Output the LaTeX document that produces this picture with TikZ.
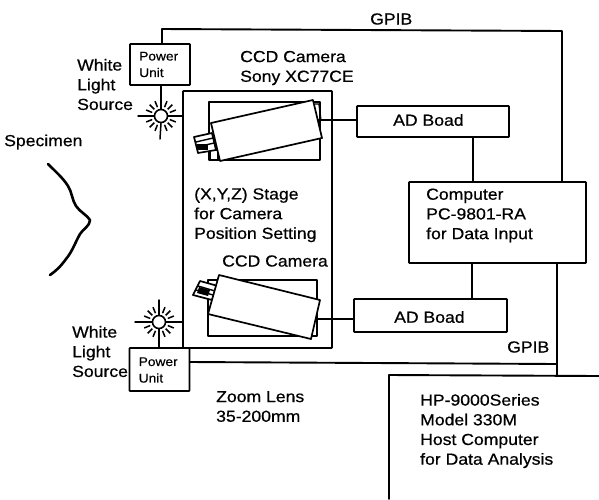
\documentclass[tikz,border=0pt]{standalone}
\usepackage{fontspec}
\setmainfont[FakeStretch=1.1,FakeBold=0.6]{Liberation Sans}
\newcommand{\lampat}[3]{%
  \node[lampc] (#1) at (#2,#3) {};
  \foreach \a in {22,45,68,112,135,158,202,225,248,292,315,338}
    \draw[raystyle] ($(#1)+(\a:9.5)$) -- ($(#1)+(\a:16)$);
}
\usetikzlibrary{calc}
\tikzset{
  x=1pt,y=-1pt,
  wire/.style={line width=1.9pt,black,line cap=round,line join=round},
  thin wire/.style={line width=1.5pt,black,line cap=round,line join=round},
  raystyle/.style={line width=1.5pt,black},
  lampc/.style={circle,draw,line width=1.6pt,minimum size=13pt,inner sep=0pt,fill=white},
  boxn/.style={draw,line width=1.8pt,inner sep=0pt,rounded corners=0.6pt},
  lbl/.style={anchor=west,align=left,inner sep=0pt,font=\fontsize{16}{19.7}\selectfont},
  small/.style={anchor=west,align=left,inner sep=0pt,font=\fontsize{12.5}{16.5}\selectfont},
  cam/.style={draw,line width=1.7pt,fill=white,line join=round},
}
\begin{document}
\begin{tikzpicture}
\useasboundingbox (0,0) rectangle (599,499);
% boxes
\node[boxn,minimum width=60pt,minimum height=41pt] (pu1) at (160,64.5) {};
\node[boxn,minimum width=60pt,minimum height=43pt] (pu2) at (159.5,369.5) {};
\node[boxn,minimum width=149pt,minimum height=257pt] (stage) at (257.5,219.5) {};
\node[boxn,minimum width=152pt,minimum height=31pt] (ad1) at (433,121.5) {};
\node[boxn,minimum width=153pt,minimum height=33pt] (ad2) at (430.5,315.5) {};
\node[boxn,minimum width=177pt,minimum height=81pt] (comp) at (497.5,222.5) {};
% host computer (runs off the page)
\coordinate (hostTR) at (599,376);
\coordinate (hostTL) at (389,375);
\coordinate (hostBL) at (389,499);
\draw[wire] (hostTR) -- (hostTL) -- (hostBL);
% GPIB wiring
\coordinate (gpA) at (162,29);
\coordinate (gpB) at (562,31);
\coordinate (gpC) at (557,364);
\draw[wire] (pu1.north -| gpA) -- (gpA) -- (gpB) -- (comp.north -| gpB);
\draw[wire] (comp.south -| gpC) -- (hostTL -| gpC);
\draw[wire] (pu2.east |- 0,362) -- (gpC);
% lamps
\lampat{lamp1}{161}{116}
\lampat{lamp2}{159}{322}
\coordinate (l1w) at (138,116);
\coordinate (l1s) at (160,139);
\coordinate (l2w) at (135,322);
\coordinate (l2n) at (159,300);
\draw[wire] (pu1.south -| lamp1) -- (lamp1.north);
\draw[thin wire] (lamp1.south) -- (l1s);
\draw[thin wire] (l1w) -- (lamp1.west);
\draw[wire] (lamp1.east) -- (stage.west |- lamp1);
\draw[wire] (pu2.north -| lamp2) -- (lamp2.south);
\draw[thin wire] (lamp2.north) -- (l2n);
\draw[thin wire] (l2w) -- (lamp2.west);
\draw[wire] (lamp2.east) -- (stage.west |- lamp2);
% camera 1
\draw[cam] (209,102) -- (320,102) -- (320,160) -- (209,160) -- cycle;
\draw[cam,line width=1.2pt] (210,150) -- (218,150) -- (218,160) -- (210,160) -- cycle;
\draw[cam] (194,137) -- (212,133) -- (216,150) -- (198,153) -- cycle;
\draw[line width=1.4pt] (196,142) -- (213,138) (197,147) -- (214,143);
\fill (197,144) rectangle (208,150);
\draw[cam] (211,123) -- (313,100) -- (322,138) -- (220,161) -- cycle;
\draw[line width=1.4pt] (315,104) -- (319,104) -- (321,121);
% camera 2
\draw[cam] (208,280) -- (317,280) -- (317,336) -- (208,336) -- cycle;
\draw[cam] (200,281) -- (218,286) -- (212,300) -- (193,295) -- cycle;
\draw[line width=1.4pt] (198,286) -- (215,291) (196,290) -- (213,295);
\fill (199,287) -- (210,290) -- (208,296) -- (197,293) -- cycle;
\draw[cam] (219,275) -- (320,300) -- (311,339) -- (208,314) -- cycle;
% camera to AD
\coordinate (cam1out) at (318,120);
\coordinate (cam2out) at (316,319);
\draw[wire] (cam1out) -- (ad1.west |- cam1out);
\draw[wire] (cam2out) -- (ad2.west |- cam2out);
% AD to computer
\draw[wire] (ad1.south -| 473,0) -- (comp.north -| 473,0);
\draw[wire] (ad2.north -| 472,0) -- (comp.south -| 472,0);
% specimen
\coordinate (sp1) at (48,164);
\coordinate (sp2) at (90,220);
\coordinate (sp3) at (50,275);
\draw[line width=2.6pt,line cap=round,line join=round]
  (sp1) .. controls (56,172) and (63,178) .. (68,186)
  .. controls (72,192) and (72,200) .. (76,206)
  .. controls (80,212) and (87,215) .. (90,220)
  .. controls (90,226) and (83,229) .. (80,234)
  .. controls (75,243) and (72,252) .. (66,259)
  .. controls (61,266) and (56,271) .. (sp3);
% labels
\node[small] (tp1) at (139,64.5) {Power\\Unit};
\node[small] (tp2) at (138.5,370) {Power\\Unit};
\node[lbl] (t1) at (77,84.5) {White\\Light\\Source};
\node[lbl] (t2) at (72,351.5) {White\\Light\\Source};
\node[lbl] (t3) at (4,142) {Specimen};
\node[lbl] (t4) at (240,68) {CCD Camera\\Sony XC77CE};
\node[lbl] (t5) at (194,215) {(X,Y,Z) Stage\\for Camera\\Position Setting};
\node[lbl] (t6) at (222,261) {CCD Camera};
\node[lbl] (t7) at (216,406.5) {Zoom Lens\\35-200mm};
\node[lbl] (t8) at (370,19) {GPIB};
\node[lbl] (t9) at (507,347) {GPIB};
\node[lbl] (t10) at (393,120) {AD Boad};
\node[lbl] (t11) at (394,317) {AD Boad};
\node[lbl] (t12) at (426,215.5) {Computer\\PC-9801-RA\\for Data Input};
\node[lbl] (t13) at (420,431) {HP-9000Series\\Model 330M\\Host Computer\\for Data Analysis};
\end{tikzpicture}
\end{document}
